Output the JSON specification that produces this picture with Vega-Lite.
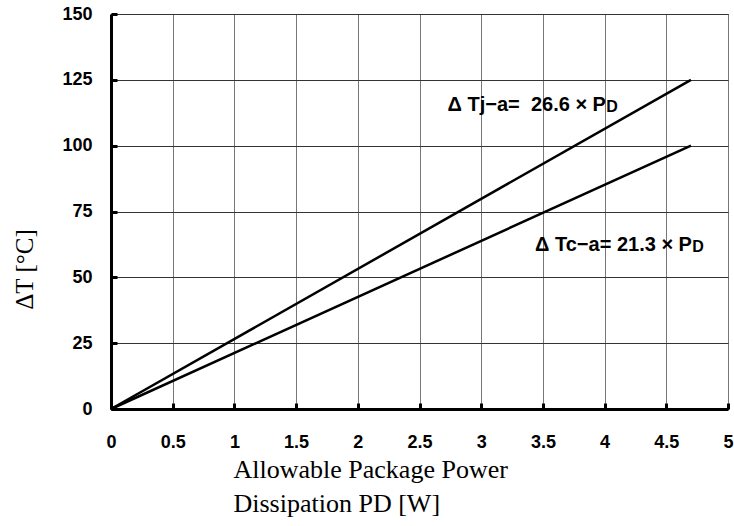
{
  "$schema": "https://vega.github.io/schema/vega-lite/v6.json",
  "width": 617,
  "height": 395,
  "autosize": {"type": "none"},
  "padding": {"left": 111, "top": 14, "right": 6, "bottom": 117},
  "background": "white",
  "config": {"view": {"stroke": "#000", "strokeWidth": 1}},
  "datasets": {
    "lines": [
      {"series": "Tj-a", "p": 0, "t": 0},
      {"series": "Tj-a", "p": 4.7, "t": 125},
      {"series": "Tc-a", "p": 0, "t": 0},
      {"series": "Tc-a", "p": 4.7, "t": 100}
    ],
    "labels": [
      {"p": 4.011, "t": 115.5, "text": "Δ Tj−a=\u00a0 26.6 × P"},
      {"p": 4.708, "t": 62.3, "text": "Δ Tc−a= 21.3 × P"}
    ],
    "subs": [
      {"p": 4.013, "t": 114.6, "text": "D"},
      {"p": 4.710, "t": 61.4, "text": "D"}
    ]
  },
  "layer": [
    {
      "data": {"name": "lines"},
      "mark": {"type": "line", "color": "black", "strokeWidth": 2.5},
      "encoding": {
        "x": {
          "field": "p", "type": "quantitative",
          "scale": {"domain": [0, 5], "nice": false, "zero": false},
          "axis": {
            "values": [0, 0.5, 1, 1.5, 2, 2.5, 3, 3.5, 4, 4.5, 5],
            "labelExpr": "datum.value",
            "labelFont": "Liberation Sans", "labelFontWeight": "bold", "labelFontSize": 18,
            "labelColor": "black", "labelPadding": 30, "labelBaseline": "top",
            "labelFlush": false, "labelOverlap": false,
            "domainColor": "black", "domainWidth": 3,
            "tickColor": "black", "tickWidth": 3, "tickSize": -6,
            "grid": true, "gridColor": "#777", "gridWidth": 1,
            "title": ["Allowable Package Power", "Dissipation PD [W]"],
            "titleFont": "Liberation Serif", "titleFontWeight": "normal", "titleFontSize": 26,
            "titleColor": "black", "titleAlign": "left", "titleBaseline": "alphabetic",
            "titleX": 122, "titleY": 68, "titleLineHeight": 34
          }
        },
        "y": {
          "field": "t", "type": "quantitative",
          "scale": {"domain": [0, 150], "nice": false},
          "axis": {
            "values": [0, 25, 50, 75, 100, 125, 150],
            "labelFont": "Liberation Sans", "labelFontWeight": "bold", "labelFontSize": 18,
            "labelColor": "black", "labelPadding": 25,
            "labelFlush": false, "labelOverlap": false,
            "domainColor": "black", "domainWidth": 3,
            "tickColor": "black", "tickWidth": 3, "tickSize": -6,
            "grid": true, "gridColor": "#333", "gridWidth": 1,
            "title": "ΔT [°C]",
            "titleFont": "Liberation Serif", "titleFontWeight": "normal", "titleFontSize": 25,
            "titleColor": "black", "titleAlign": "center", "titleBaseline": "middle",
            "titleAngle": -90, "titleX": -87, "titleY": 255
          }
        },
        "detail": {"field": "series"}
      }
    },
    {
      "data": {"name": "labels"},
      "mark": {"type": "text", "align": "right", "baseline": "middle", "font": "Liberation Sans", "fontWeight": "bold", "fontSize": 20, "color": "black"},
      "encoding": {
        "x": {"field": "p", "type": "quantitative"},
        "y": {"field": "t", "type": "quantitative"},
        "text": {"field": "text"}
      }
    },
    {
      "data": {"name": "subs"},
      "mark": {"type": "text", "align": "left", "baseline": "middle", "font": "Liberation Sans", "fontWeight": "bold", "fontSize": 16, "color": "black"},
      "encoding": {
        "x": {"field": "p", "type": "quantitative"},
        "y": {"field": "t", "type": "quantitative"},
        "text": {"field": "text"}
      }
    }
  ]
}
